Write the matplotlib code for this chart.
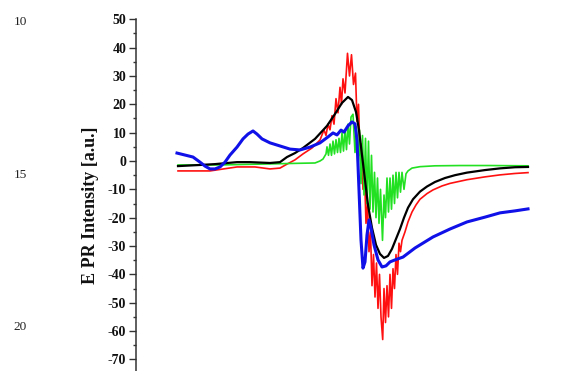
import numpy as np
import matplotlib
matplotlib.use("Agg")
import matplotlib.pyplot as plt

# EPR spectra, magnetic field (G) against intensity (a.u.)
field_black = [3300, 3322, 3337, 3359, 3372, 3392, 3402, 3409, 3417, 3425, 3437,
               3449, 3457, 3464, 3470, 3474, 3478, 3481, 3484, 3487, 3490, 3494,
               3498, 3502, 3506, 3510, 3514, 3518, 3522, 3526, 3530, 3535, 3542,
               3549, 3557, 3567, 3577, 3589, 3607, 3622, 3637, 3650]
epr_black = [-1.8, -1.4, -1.1, -0.4, -0.4, -0.7, -0.4, 1.4, 2.8, 4.6, 7.8,
             12.4, 16.6, 20.5, 22.6, 21.5, 17.3, 10.9, 2.1, -6.7, -15.5, -23.6,
             -29.6, -32.8, -34.2, -33.5, -31.0, -27.5, -24.0, -20.0, -16.5, -13.5, -10.8,
             -9.0, -7.4, -6.0, -5.0, -4.1, -3.2, -2.6, -2.2, -2.1]

field_red = [3300, 3332, 3359, 3377, 3392, 3402, 3409, 3417, 3425, 3434, 3442,
             3446, 3448, 3450, 3452, 3454, 3456, 3458, 3460, 3462, 3463.5, 3465,
             3467, 3469.5, 3471.5, 3473.5, 3475.5, 3477.5, 3479, 3480.5, 3482, 3483.5,
             3485, 3486.5, 3488, 3489.5, 3491, 3492.5, 3494, 3495.5, 3497, 3498.5,
             3500, 3501.5, 3503, 3504.7, 3506, 3507.5, 3509, 3510.5, 3512, 3513.5,
             3515, 3516.5, 3518, 3519.5, 3521, 3522.5, 3524, 3527, 3530, 3534,
             3538, 3542, 3549, 3555, 3564, 3572, 3589, 3607, 3622, 3637, 3650]
epr_red = [-3.5, -3.5, -2.1, -2.1, -2.8, -2.5, -1.1, 0.4, 2.5, 4.6, 7.4,
           11, 9, 13, 11, 16, 13, 22, 17, 26, 20, 29,
           24, 38, 30, 37.5, 27, 31, 14, 20, 2, 6,
           -10, -4, -22, -15, -32, -25, -44, -33, -48, -36,
           -52, -40, -55, -63, -45, -57, -44, -55, -40, -52,
           -38, -45, -33, -40, -29, -32, -28, -25, -21.5, -18,
           -15.5, -13.5, -11.5, -10.2, -8.8, -7.9, -6.6, -5.6, -4.9, -4.4, -4.1]

field_green = [3300, 3342, 3382, 3422, 3437, 3442, 3445, 3448, 3449, 3450.5, 3452,
               3453.5, 3455, 3456.5, 3458, 3459.5, 3461, 3462.5, 3464, 3465.5, 3467,
               3468.5, 3470, 3471.5, 3473, 3475, 3477, 3478.5, 3480, 3481.5, 3483,
               3484.5, 3486, 3487.5, 3489, 3490.5, 3492, 3493.5, 3495, 3496.5, 3498,
               3499.5, 3501, 3502.5, 3504.5, 3506, 3507.5, 3509, 3510.5, 3512, 3513.5,
               3515, 3516.5, 3518, 3519.5, 3521, 3522.5, 3524, 3526, 3528, 3530,
               3534, 3542, 3557, 3582, 3612, 3650]
epr_green = [-1.4, -1.4, -1.1, -0.8, -0.7, 0, 0.7, 2.5, 5, 2, 6,
             2, 7, 2.5, 7.5, 3, 8, 3, 10, 3.5, 11,
             4, 13, 6, 15.5, 16.5, 3, 12, -2, 11, -8,
             9, -12, 8, -15, 7, -17, 2, -18, -4, -20,
             -6, -22, -10, -28, -12, -20, -6, -18, -6, -17,
             -5, -15, -4, -13, -4, -11, -4, -10, -4.5, -3.5,
             -2.5, -2.0, -1.7, -1.6, -1.6, -1.7]

field_blue = [3299, 3307, 3315, 3322, 3327, 3332, 3337, 3342, 3347, 3352, 3359,
              3365, 3370, 3375, 3379, 3384, 3392, 3402, 3412, 3422, 3432, 3442,
              3450, 3455, 3459, 3463, 3466, 3470, 3474, 3477, 3479, 3481, 3483,
              3485, 3487, 3489, 3491, 3493, 3496, 3500, 3504, 3508, 3512, 3517,
              3525, 3537, 3555, 3572, 3589, 3607, 3622, 3637, 3650]
epr_blue = [2.8, 2.1, 1.4, -0.4, -1.8, -2.8, -2.8, -2.1, -0.4, 2.1, 4.9,
            7.8, 9.5, 10.6, 9.5, 7.8, 6.4, 5.3, 4.2, 3.9, 4.9, 6.4,
            8.5, 9.9, 9.2, 10.9, 10.2, 12.4, 13.8, 13.1, 7.4, -10.2, -27.9,
            -37.8, -35.6, -26.1, -20.8, -23.6, -29.6, -34.9, -37.4, -37.0, -35.6, -34.9,
            -33.9, -30.7, -26.8, -24.0, -21.5, -19.8, -18.3, -17.6, -16.9]

y_ticks = np.arange(-70, 51, 10)
line_numbers = ["10", "15", "20"]

plt.rcParams["font.family"] = ["Liberation Serif", "DejaVu Serif"]
plt.rcParams["axes.unicode_minus"] = False

fig = plt.figure(figsize=(5.7, 3.71), dpi=100)
ax = fig.add_axes([136 / 570, 0, 424 / 570, 351.7 / 371])

ax.plot(field_red, epr_red, color="#ff1010", lw=1.2)
ax.plot(field_green, epr_green, color="#22e022", lw=1.2)
ax.plot(field_black, epr_black, color="black", lw=1.6)
ax.plot(field_blue, epr_blue, color="#1010e8", lw=2.2)

ax.set_xlim(3258, 3682)
ax.set_ylim(-74.1, 50)
ax.set_yticks(y_ticks)
ax.set_yticks(y_ticks[:-1] + 5, minor=True)
ax.set_xticks([])
for side in ["top", "right", "bottom"]:
    ax.spines[side].set_visible(False)
ax.spines["left"].set_color("#333333")
ax.spines["left"].set_linewidth(1.1)
ax.tick_params(axis="y", which="major", length=5, width=1, pad=2,
               labelsize=10, colors="#333333", labelcolor="#111111")
ax.tick_params(axis="y", which="minor", length=2.5, width=1, colors="#333333")
for lab in ax.get_yticklabels():
    lab.set_fontweight("bold")

ax.set_ylabel("E PR Intensity [a.u.]", fontsize=13, fontweight="bold", color="#111111")
ax.yaxis.set_label_coords(-0.088, 0.472)

# page line numbers from the source document
for txt, yy in zip(line_numbers, [22, 175, 327]):
    fig.text(20 / 570, 1 - yy / 371, txt, fontsize=9.5, ha="center", va="center",
             color="#222222")

fig.savefig("out.png", dpi=100)
